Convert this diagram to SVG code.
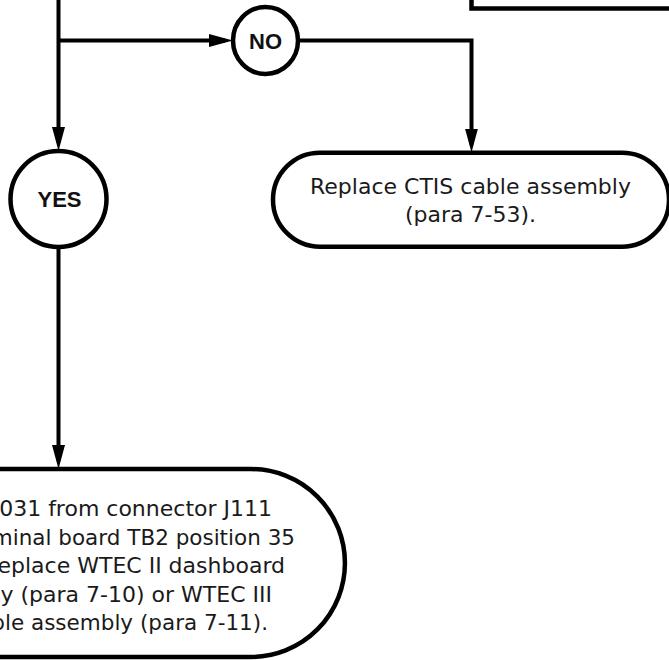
<svg xmlns="http://www.w3.org/2000/svg" width="669" height="660" viewBox="0 0 669 660">
<style>
.shape{fill:#fff;stroke:#000;stroke-width:4.5}
.ln{fill:none;stroke:#000;stroke-width:4;stroke-linejoin:miter}
.t{font-family:"DejaVu Sans","Liberation Sans",sans-serif;font-size:22px;fill:#1a1a1a}
.tb{font-size:21.5px}
.lbl{font-family:"Liberation Sans",Arial,sans-serif;font-size:22px;font-weight:bold;fill:#111;text-anchor:middle}
</style>
<defs>
<marker id="ah" viewBox="0 0 24 13" refX="16" refY="6.5" markerWidth="24" markerHeight="13" markerUnits="userSpaceOnUse" orient="auto">
<path d="M0,0 L24,6.5 L0,13 Z" fill="#000"/>
</marker>
</defs>
<rect width="669" height="660" fill="#fff"/>
<g id="connectors">
<path class="ln" d="M58.5,0 V143" marker-end="url(#ah)"/>
<path class="ln" d="M58.5,40.5 H225" marker-end="url(#ah)"/>
<path class="ln" d="M298,40.5 H471.5 V144.5" marker-end="url(#ah)"/>
<path class="ln" d="M58.5,247 V461" marker-end="url(#ah)"/>
</g>
<g id="top-box">
<path class="shape" d="M471.5,-10 V8.5 H690 V-10 Z"/>
</g>
<g id="no">
<ellipse class="shape" cx="265.5" cy="40.5" rx="32.5" ry="33.5"/>
<text class="lbl" x="265.5" y="48.5">NO</text>
</g>
<g id="yes">
<circle class="shape" cx="58.5" cy="199" r="48"/>
<text class="lbl" x="59.5" y="207">YES</text>
</g>
<g id="ctis">
<path class="shape" d="M320,152.7 H622 A47,47 0 0 1 622,246.7 H320 A47,47 0 0 1 320,152.7 Z"/>
<text class="t" text-anchor="middle" x="470.5" y="194">Replace CTIS cable assembly</text>
<text class="t" text-anchor="middle" x="470.5" y="221.5">(para 7-53).</text>
</g>
<g id="repair">
<path class="shape" d="M-20,469 H251 A94,94 0 0 1 251,657 H-20 Z"/>
<text class="t" text-anchor="end" x="272" y="516">031 from connector J111</text>
<text class="t tb" text-anchor="end" x="295" y="544.5">minal board TB2 position 35</text>
<text class="t" text-anchor="end" x="285" y="573">eplace WTEC II dashboard</text>
<text class="t" text-anchor="end" x="272" y="601.5">y (para 7-10) or WTEC III</text>
<text class="t tb" text-anchor="end" x="268" y="630">ble assembly (para 7-11).</text>
</g>
</svg>
